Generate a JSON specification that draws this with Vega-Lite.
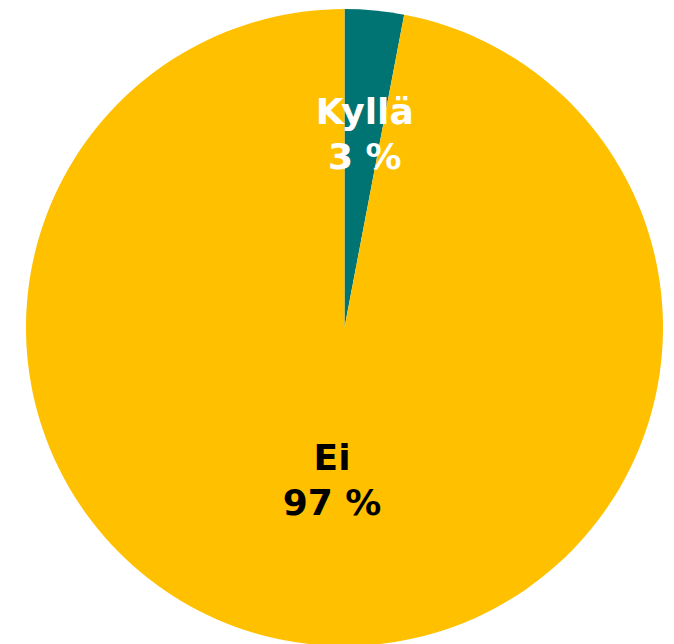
{
  "$schema": "https://vega.github.io/schema/vega-lite/v6.json",
  "width": 659,
  "height": 633,
  "padding": {"left": 15, "top": 11, "right": 0, "bottom": 0},
  "autosize": {"type": "none"},
  "background": "white",
  "view": {"stroke": null},
  "data": {
    "values": [
      {"vastaus": "Kyllä", "osuus": 3, "order": 1, "label": "Kyllä\n3 %"},
      {"vastaus": "Ei", "osuus": 97, "order": 2, "label": "Ei\n97 %"}
    ]
  },
  "encoding": {
    "theta": {"field": "osuus", "type": "quantitative", "stack": true},
    "order": {"field": "order", "type": "quantitative"}
  },
  "layer": [
    {
      "mark": {"type": "arc", "radius": 318.5},
      "encoding": {
        "color": {
          "field": "vastaus",
          "type": "nominal",
          "scale": {"domain": ["Kyllä", "Ei"], "range": ["#007373", "#FFC000"]},
          "legend": null
        }
      }
    },
    {
      "mark": {"type": "text", "radius": 215, "font": "DejaVu Sans", "fontWeight": "bold", "fontSize": 36, "lineBreak": "\n", "lineHeight": 45, "align": "center", "baseline": "middle", "color": "white"},
      "encoding": {"text": {"condition": {"test": "datum.vastaus == 'Kyllä'", "field": "label"}, "value": ""}}
    },
    {
      "mark": {"type": "text", "radius": 132, "font": "DejaVu Sans", "fontWeight": "bold", "fontSize": 36, "lineBreak": "\n", "lineHeight": 45, "align": "center", "baseline": "middle", "color": "black"},
      "encoding": {"text": {"condition": {"test": "datum.vastaus == 'Ei'", "field": "label"}, "value": ""}}
    }
  ]
}
